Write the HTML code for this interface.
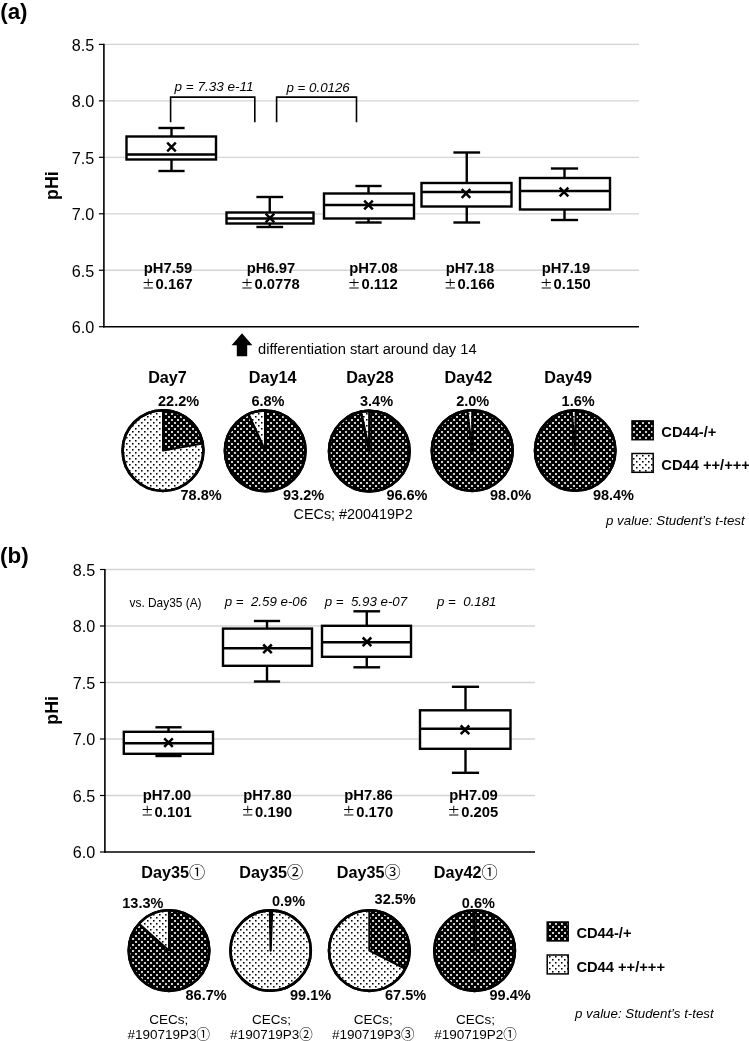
<!DOCTYPE html>
<html><head><meta charset="utf-8"><title>pHi figure</title>
<style>html,body{margin:0;padding:0;background:#fff;}svg{display:block;}text{white-space:pre;font-family:"Liberation Sans","Noto Sans CJK JP",sans-serif;fill:#000;}.b{font-weight:bold;}.i{font-style:italic;}</style></head><body>
<svg width="749" height="1041" viewBox="0 0 749 1041">
<defs>
<pattern id="dk" width="6" height="6" patternUnits="userSpaceOnUse" patternTransform="translate(3,5)"><rect width="6" height="6" fill="#000"/><rect x="0.1" y="0.1" width="1.8" height="1.8" fill="#fff"/><rect x="3.1" y="3.1" width="1.8" height="1.8" fill="#fff"/></pattern>
<pattern id="lt" width="6" height="6" patternUnits="userSpaceOnUse" patternTransform="translate(0,2)"><rect width="6" height="6" fill="#fff"/><rect x="3" y="0" width="1.55" height="1.55" fill="#000"/><rect x="0" y="3" width="1.55" height="1.55" fill="#000"/></pattern>
</defs>
<rect width="749" height="1041" fill="#fff"/>
<text x="0.2" y="18.9" font-size="22.4" text-anchor="start" class="b">(a)</text>
<line x1="103.9" y1="44.4" x2="639" y2="44.4" stroke="#d4d4d4" stroke-width="1.3"/>
<line x1="98.9" y1="44.4" x2="103.9" y2="44.4" stroke="#000" stroke-width="1.2"/>
<text x="94.2" y="50.9" font-size="16.2" text-anchor="end">8.5</text>
<line x1="103.9" y1="100.86" x2="639" y2="100.86" stroke="#d4d4d4" stroke-width="1.3"/>
<line x1="98.9" y1="100.86" x2="103.9" y2="100.86" stroke="#000" stroke-width="1.2"/>
<text x="94.2" y="107.36" font-size="16.2" text-anchor="end">8.0</text>
<line x1="103.9" y1="157.32" x2="639" y2="157.32" stroke="#d4d4d4" stroke-width="1.3"/>
<line x1="98.9" y1="157.32" x2="103.9" y2="157.32" stroke="#000" stroke-width="1.2"/>
<text x="94.2" y="163.82" font-size="16.2" text-anchor="end">7.5</text>
<line x1="103.9" y1="213.78" x2="639" y2="213.78" stroke="#d4d4d4" stroke-width="1.3"/>
<line x1="98.9" y1="213.78" x2="103.9" y2="213.78" stroke="#000" stroke-width="1.2"/>
<text x="94.2" y="220.28" font-size="16.2" text-anchor="end">7.0</text>
<line x1="103.9" y1="270.24" x2="639" y2="270.24" stroke="#d4d4d4" stroke-width="1.3"/>
<line x1="98.9" y1="270.24" x2="103.9" y2="270.24" stroke="#000" stroke-width="1.2"/>
<text x="94.2" y="276.74" font-size="16.2" text-anchor="end">6.5</text>
<line x1="98.9" y1="326.7" x2="103.9" y2="326.7" stroke="#000" stroke-width="1.2"/>
<text x="94.2" y="333.2" font-size="16.2" text-anchor="end">6.0</text>
<line x1="103.9" y1="43.8" x2="103.9" y2="327.4" stroke="#000" stroke-width="1.6"/>
<line x1="103.2" y1="326.7" x2="639" y2="326.7" stroke="#000" stroke-width="1.5"/>
<text transform="translate(57.6,185.6) rotate(-90)" font-size="17.8" text-anchor="middle" class="b">pHi</text>
<path d="M170.6 122.3V97.1H254.8V122.3M276.6 122.3V97.1H356.5V122.3" fill="none" stroke="#000" stroke-width="1.6"/>
<text x="174.5" y="90.6" font-size="13.5" text-anchor="start" class="i">p = 7.33 e-11</text>
<text x="286.5" y="92" font-size="13.3" text-anchor="start" class="i">p = 0.0126</text>
<g stroke="#000" stroke-width="2.4" fill="none">
<line x1="171.5" y1="128" x2="171.5" y2="136.5"/>
<line x1="171.5" y1="159.5" x2="171.5" y2="171"/>
<line x1="158.4" y1="128" x2="184.6" y2="128"/>
<line x1="158.4" y1="171" x2="184.6" y2="171"/>
<rect x="126.5" y="136.5" width="89.5" height="23" fill="#fff"/>
<line x1="126.5" y1="154.5" x2="216" y2="154.5"/>
<path d="M167.2 142.7L175.8 151.3M167.2 151.3L175.8 142.7" stroke-width="2.5"/>
</g>
<g stroke="#000" stroke-width="2.4" fill="none">
<line x1="269.75" y1="197" x2="269.75" y2="212.5"/>
<line x1="269.75" y1="223.5" x2="269.75" y2="227"/>
<line x1="256.4" y1="197" x2="283.1" y2="197"/>
<line x1="256.4" y1="227" x2="283.1" y2="227"/>
<rect x="226.5" y="212.5" width="87" height="11" fill="#fff"/>
<line x1="226.5" y1="218.5" x2="313.5" y2="218.5"/>
<path d="M265.7 213.7L274.3 222.3M265.7 222.3L274.3 213.7" stroke-width="2.5"/>
</g>
<g stroke="#000" stroke-width="2.4" fill="none">
<line x1="368.5" y1="186" x2="368.5" y2="193.5"/>
<line x1="368.5" y1="218.5" x2="368.5" y2="222.5"/>
<line x1="355.4" y1="186" x2="381.6" y2="186"/>
<line x1="355.4" y1="222.5" x2="381.6" y2="222.5"/>
<rect x="324" y="193.5" width="90" height="25" fill="#fff"/>
<line x1="324" y1="205" x2="414" y2="205"/>
<path d="M364.2 200.7L372.8 209.3M364.2 209.3L372.8 200.7" stroke-width="2.5"/>
</g>
<g stroke="#000" stroke-width="2.4" fill="none">
<line x1="466.75" y1="152.5" x2="466.75" y2="183"/>
<line x1="466.75" y1="206.5" x2="466.75" y2="222.5"/>
<line x1="453.4" y1="152.5" x2="480.1" y2="152.5"/>
<line x1="453.4" y1="222.5" x2="480.1" y2="222.5"/>
<rect x="421.5" y="183" width="90" height="23.5" fill="#fff"/>
<line x1="421.5" y1="192" x2="511.5" y2="192"/>
<path d="M461.7 189.2L470.3 197.8M461.7 197.8L470.3 189.2" stroke-width="2.5"/>
</g>
<g stroke="#000" stroke-width="2.4" fill="none">
<line x1="564.5" y1="168.5" x2="564.5" y2="178"/>
<line x1="564.5" y1="209.5" x2="564.5" y2="220"/>
<line x1="550.9" y1="168.5" x2="578.1" y2="168.5"/>
<line x1="550.9" y1="220" x2="578.1" y2="220"/>
<rect x="520" y="178" width="90" height="31.5" fill="#fff"/>
<line x1="520" y1="191" x2="610" y2="191"/>
<path d="M559.7 187.7L568.3 196.3M559.7 196.3L568.3 187.7" stroke-width="2.5"/>
</g>
<text x="168" y="272.6" font-size="14.8" text-anchor="middle" class="b">pH7.59</text>
<text x="167" y="288.9" font-size="14.8" text-anchor="middle" class="b"><tspan style="font-family:IPAGothic,'Noto Sans CJK JP',sans-serif;font-weight:normal" font-size="13.5" dy="-0.4">±</tspan><tspan dx="0.7" dy="0.4">0.167</tspan></text>
<text x="271" y="272.6" font-size="14.8" text-anchor="middle" class="b">pH6.97</text>
<text x="270" y="288.9" font-size="14.8" text-anchor="middle" class="b"><tspan style="font-family:IPAGothic,'Noto Sans CJK JP',sans-serif;font-weight:normal" font-size="13.5" dy="-0.4">±</tspan><tspan dx="0.7" dy="0.4">0.0778</tspan></text>
<text x="373.5" y="272.6" font-size="14.8" text-anchor="middle" class="b">pH7.08</text>
<text x="372.5" y="288.9" font-size="14.8" text-anchor="middle" class="b"><tspan style="font-family:IPAGothic,'Noto Sans CJK JP',sans-serif;font-weight:normal" font-size="13.5" dy="-0.4">±</tspan><tspan dx="0.7" dy="0.4">0.112</tspan></text>
<text x="470" y="272.6" font-size="14.8" text-anchor="middle" class="b">pH7.18</text>
<text x="469" y="288.9" font-size="14.8" text-anchor="middle" class="b"><tspan style="font-family:IPAGothic,'Noto Sans CJK JP',sans-serif;font-weight:normal" font-size="13.5" dy="-0.4">±</tspan><tspan dx="0.7" dy="0.4">0.166</tspan></text>
<text x="566" y="272.6" font-size="14.8" text-anchor="middle" class="b">pH7.19</text>
<text x="565" y="288.9" font-size="14.8" text-anchor="middle" class="b"><tspan style="font-family:IPAGothic,'Noto Sans CJK JP',sans-serif;font-weight:normal" font-size="13.5" dy="-0.4">±</tspan><tspan dx="0.7" dy="0.4">0.150</tspan></text>
<path d="M242 333.2L252.4 345.2H247.2V356.3H236.8V345.2H231.6Z" fill="#000"/>
<text x="258" y="354" font-size="14.7" text-anchor="start">differentiation start around day 14</text>
<text x="167.5" y="383" font-size="16.2" text-anchor="middle" class="b">Day7</text>
<text x="272.7" y="383" font-size="16.2" text-anchor="middle" class="b">Day14</text>
<text x="370" y="383" font-size="16.2" text-anchor="middle" class="b">Day28</text>
<text x="468.4" y="383" font-size="16.2" text-anchor="middle" class="b">Day42</text>
<text x="568.1" y="383" font-size="16.2" text-anchor="middle" class="b">Day49</text>
<circle cx="163" cy="450.6" r="40.4" fill="url(#lt)" stroke="#000" stroke-width="2.6"/>
<path d="M163 450.6L163 410.2A40.4 40.4 0 0 1 202.78 443.53Z" fill="url(#dk)" stroke="#000" stroke-width="2.0" stroke-linejoin="round"/>
<circle cx="163" cy="450.6" r="40.4" fill="none" stroke="#000" stroke-width="2.6"/>
<circle cx="265.2" cy="450.8" r="40.3" fill="url(#dk)" stroke="#000" stroke-width="2.6"/>
<path d="M265.2 450.8L248.49 414.13A40.3 40.3 0 0 1 265.19 410.5Z" fill="url(#lt)" stroke="#000" stroke-width="2.4" stroke-linejoin="round"/>
<circle cx="265.2" cy="450.8" r="40.3" fill="none" stroke="#000" stroke-width="2.6"/>
<circle cx="369.3" cy="451.2" r="40.3" fill="url(#dk)" stroke="#000" stroke-width="2.6"/>
<path d="M369.3 451.2L360.92 411.78A40.3 40.3 0 0 1 369.47 410.9Z" fill="url(#lt)" stroke="#000" stroke-width="2.6" stroke-linejoin="round"/>
<circle cx="369.3" cy="451.2" r="40.3" fill="none" stroke="#000" stroke-width="2.6"/>
<circle cx="472.2" cy="450.6" r="40.4" fill="url(#dk)" stroke="#000" stroke-width="2.6"/>
<path d="M472.2 450.6L467.28 410.5A40.4 40.4 0 0 1 472.34 410.2Z" fill="url(#lt)" stroke="#000" stroke-width="2.2" stroke-linejoin="round"/>
<circle cx="472.2" cy="450.6" r="40.4" fill="none" stroke="#000" stroke-width="2.6"/>
<circle cx="575.2" cy="450.6" r="40.2" fill="url(#dk)" stroke="#000" stroke-width="2.6"/>
<path d="M575.2 450.6L571.7 410.55A40.2 40.2 0 0 1 575.73 410.4Z" fill="url(#lt)" stroke="#000" stroke-width="2.1" stroke-linejoin="round"/>
<circle cx="575.2" cy="450.6" r="40.2" fill="none" stroke="#000" stroke-width="2.6"/>
<text x="158" y="405.8" font-size="14.5" text-anchor="start" class="b">22.2%</text>
<text x="180.5" y="499.9" font-size="14.5" text-anchor="start" class="b">78.8%</text>
<text x="251.4" y="405.8" font-size="14.5" text-anchor="start" class="b">6.8%</text>
<text x="283" y="499.9" font-size="14.5" text-anchor="start" class="b">93.2%</text>
<text x="360" y="405.8" font-size="14.5" text-anchor="start" class="b">3.4%</text>
<text x="386.4" y="499.9" font-size="14.5" text-anchor="start" class="b">96.6%</text>
<text x="456.2" y="405.8" font-size="14.5" text-anchor="start" class="b">2.0%</text>
<text x="490" y="499.9" font-size="14.5" text-anchor="start" class="b">98.0%</text>
<text x="561.6" y="405.8" font-size="14.5" text-anchor="start" class="b">1.6%</text>
<text x="592.9" y="500.3" font-size="14.5" text-anchor="start" class="b">98.4%</text>
<text x="293.5" y="519" font-size="14.4" text-anchor="start">CECs; #200419P2</text>
<rect x="632" y="420.9" width="21.2" height="18.8" fill="url(#dk)" stroke="#000" stroke-width="1.5"/>
<rect x="632" y="453.5" width="21.2" height="18.8" fill="url(#lt)" stroke="#000" stroke-width="1.5"/>
<text x="661.3" y="437" font-size="14.7" text-anchor="start" class="b">CD44-/+</text>
<text x="661.3" y="469.7" font-size="14.7" text-anchor="start" class="b">CD44 ++/+++</text>
<text x="606" y="524.7" font-size="13.3" text-anchor="start" class="i">p value: Student’s t-test</text>
<text x="0" y="562.7" font-size="22.4" text-anchor="start" class="b">(b)</text>
<line x1="104.9" y1="569.5" x2="535" y2="569.5" stroke="#d4d4d4" stroke-width="1.3"/>
<line x1="99.9" y1="569.5" x2="104.9" y2="569.5" stroke="#000" stroke-width="1.2"/>
<text x="95.2" y="575.5" font-size="16.2" text-anchor="end">8.5</text>
<line x1="104.9" y1="626" x2="535" y2="626" stroke="#d4d4d4" stroke-width="1.3"/>
<line x1="99.9" y1="626" x2="104.9" y2="626" stroke="#000" stroke-width="1.2"/>
<text x="95.2" y="632" font-size="16.2" text-anchor="end">8.0</text>
<line x1="104.9" y1="682.5" x2="535" y2="682.5" stroke="#d4d4d4" stroke-width="1.3"/>
<line x1="99.9" y1="682.5" x2="104.9" y2="682.5" stroke="#000" stroke-width="1.2"/>
<text x="95.2" y="688.5" font-size="16.2" text-anchor="end">7.5</text>
<line x1="104.9" y1="739" x2="535" y2="739" stroke="#d4d4d4" stroke-width="1.3"/>
<line x1="99.9" y1="739" x2="104.9" y2="739" stroke="#000" stroke-width="1.2"/>
<text x="95.2" y="745" font-size="16.2" text-anchor="end">7.0</text>
<line x1="104.9" y1="795.5" x2="535" y2="795.5" stroke="#d4d4d4" stroke-width="1.3"/>
<line x1="99.9" y1="795.5" x2="104.9" y2="795.5" stroke="#000" stroke-width="1.2"/>
<text x="95.2" y="801.5" font-size="16.2" text-anchor="end">6.5</text>
<line x1="99.9" y1="852" x2="104.9" y2="852" stroke="#000" stroke-width="1.2"/>
<text x="95.2" y="858" font-size="16.2" text-anchor="end">6.0</text>
<line x1="104.9" y1="568.9" x2="104.9" y2="852.7" stroke="#000" stroke-width="1.6"/>
<line x1="104.2" y1="852" x2="535" y2="852" stroke="#000" stroke-width="1.5"/>
<text transform="translate(57.6,710.4) rotate(-90)" font-size="17.8" text-anchor="middle" class="b">pHi</text>
<text x="129.5" y="606.9" font-size="11.9" text-anchor="start">vs. Day35 (A)</text>
<text x="224.7" y="606.4" font-size="13.3" text-anchor="start" class="i">p =  2.59 e-06</text>
<text x="324.7" y="606.4" font-size="13.3" text-anchor="start" class="i">p =  5.93 e-07</text>
<text x="437" y="606.4" font-size="13.3" text-anchor="start" class="i">p =  0.181</text>
<g stroke="#000" stroke-width="2.4" fill="none">
<line x1="168.5" y1="727.3" x2="168.5" y2="731.8"/>
<line x1="168.5" y1="753.8" x2="168.5" y2="756"/>
<line x1="155.4" y1="727.3" x2="181.6" y2="727.3"/>
<line x1="155.4" y1="756" x2="181.6" y2="756"/>
<rect x="123.8" y="731.8" width="89.2" height="22" fill="#fff"/>
<line x1="123.8" y1="743.3" x2="213" y2="743.3"/>
<path d="M164.2 738.3L172.8 746.9M164.2 746.9L172.8 738.3" stroke-width="2.5"/>
</g>
<g stroke="#000" stroke-width="2.4" fill="none">
<line x1="267" y1="621" x2="267" y2="628.6"/>
<line x1="267" y1="665.8" x2="267" y2="681.5"/>
<line x1="253.9" y1="621" x2="280.1" y2="621"/>
<line x1="253.9" y1="681.5" x2="280.1" y2="681.5"/>
<rect x="223" y="628.6" width="89" height="37.2" fill="#fff"/>
<line x1="223" y1="648.3" x2="312" y2="648.3"/>
<path d="M263.2 644.5L271.8 653.1M263.2 653.1L271.8 644.5" stroke-width="2.5"/>
</g>
<g stroke="#000" stroke-width="2.4" fill="none">
<line x1="366.75" y1="611.3" x2="366.75" y2="625.8"/>
<line x1="366.75" y1="656.8" x2="366.75" y2="667.3"/>
<line x1="353.4" y1="611.3" x2="380.1" y2="611.3"/>
<line x1="353.4" y1="667.3" x2="380.1" y2="667.3"/>
<rect x="322" y="625.8" width="89" height="31" fill="#fff"/>
<line x1="322" y1="642.3" x2="411" y2="642.3"/>
<path d="M362.7 637.5L371.3 646.1M362.7 646.1L371.3 637.5" stroke-width="2.5"/>
</g>
<g stroke="#000" stroke-width="2.4" fill="none">
<line x1="465.5" y1="686.8" x2="465.5" y2="710.3"/>
<line x1="465.5" y1="748.8" x2="465.5" y2="772.8"/>
<line x1="451.9" y1="686.8" x2="479.1" y2="686.8"/>
<line x1="451.9" y1="772.8" x2="479.1" y2="772.8"/>
<rect x="420" y="710.3" width="90.5" height="38.5" fill="#fff"/>
<line x1="420" y1="728.8" x2="510.5" y2="728.8"/>
<path d="M460.7 725.5L469.3 734.1M460.7 734.1L469.3 725.5" stroke-width="2.5"/>
</g>
<text x="167" y="800.4" font-size="14.8" text-anchor="middle" class="b">pH7.00</text>
<text x="166" y="816.6" font-size="14.8" text-anchor="middle" class="b"><tspan style="font-family:IPAGothic,'Noto Sans CJK JP',sans-serif;font-weight:normal" font-size="13.5" dy="-0.4">±</tspan><tspan dx="0.7" dy="0.4">0.101</tspan></text>
<text x="267.5" y="800.4" font-size="14.8" text-anchor="middle" class="b">pH7.80</text>
<text x="266.5" y="816.6" font-size="14.8" text-anchor="middle" class="b"><tspan style="font-family:IPAGothic,'Noto Sans CJK JP',sans-serif;font-weight:normal" font-size="13.5" dy="-0.4">±</tspan><tspan dx="0.7" dy="0.4">0.190</tspan></text>
<text x="368.6" y="800.4" font-size="14.8" text-anchor="middle" class="b">pH7.86</text>
<text x="367.6" y="816.6" font-size="14.8" text-anchor="middle" class="b"><tspan style="font-family:IPAGothic,'Noto Sans CJK JP',sans-serif;font-weight:normal" font-size="13.5" dy="-0.4">±</tspan><tspan dx="0.7" dy="0.4">0.170</tspan></text>
<text x="473.6" y="800.4" font-size="14.8" text-anchor="middle" class="b">pH7.09</text>
<text x="472.6" y="816.6" font-size="14.8" text-anchor="middle" class="b"><tspan style="font-family:IPAGothic,'Noto Sans CJK JP',sans-serif;font-weight:normal" font-size="13.5" dy="-0.4">±</tspan><tspan dx="0.7" dy="0.4">0.205</tspan></text>
<text x="173.2" y="878" font-size="16.2" text-anchor="middle" class="b">Day35<tspan style="font-weight:normal">①</tspan></text>
<text x="271.3" y="878" font-size="16.2" text-anchor="middle" class="b">Day35<tspan style="font-weight:normal">②</tspan></text>
<text x="368.7" y="878" font-size="16.2" text-anchor="middle" class="b">Day35<tspan style="font-weight:normal">③</tspan></text>
<text x="465.8" y="878" font-size="16.2" text-anchor="middle" class="b">Day42<tspan style="font-weight:normal">①</tspan></text>
<circle cx="169" cy="950.6" r="40.3" fill="url(#dk)" stroke="#000" stroke-width="2.6"/>
<path d="M169 950.6L139.05 923.63A40.3 40.3 0 0 1 168.92 910.3Z" fill="url(#lt)" stroke="#000" stroke-width="2.0" stroke-linejoin="round"/>
<circle cx="169" cy="950.6" r="40.3" fill="none" stroke="#000" stroke-width="2.6"/>
<circle cx="270.6" cy="950.6" r="40.2" fill="url(#lt)" stroke="#000" stroke-width="2.6"/>
<path d="M270.6 950.6L269.9 910.41A40.2 40.2 0 0 1 272.17 910.43Z" fill="url(#dk)" stroke="#000" stroke-width="2.2" stroke-linejoin="round"/>
<circle cx="270.6" cy="950.6" r="40.2" fill="none" stroke="#000" stroke-width="2.6"/>
<circle cx="369.3" cy="950.6" r="40.3" fill="url(#lt)" stroke="#000" stroke-width="2.6"/>
<path d="M369.3 950.6L369.3 910.3A40.3 40.3 0 0 1 405.21 968.9Z" fill="url(#dk)" stroke="#000" stroke-width="2.0" stroke-linejoin="round"/>
<circle cx="369.3" cy="950.6" r="40.3" fill="none" stroke="#000" stroke-width="2.6"/>
<circle cx="474.6" cy="950.6" r="40.3" fill="url(#dk)" stroke="#000" stroke-width="2.6"/>
<path d="M474.6 950.6L473.19 910.32A40.3 40.3 0 0 1 474.71 910.3Z" fill="url(#lt)" stroke="#000" stroke-width="2.0" stroke-linejoin="round"/>
<circle cx="474.6" cy="950.6" r="40.3" fill="none" stroke="#000" stroke-width="2.6"/>
<text x="122.3" y="908.2" font-size="14.5" text-anchor="start" class="b">13.3%</text>
<text x="185.5" y="1000" font-size="14.5" text-anchor="start" class="b">86.7%</text>
<text x="272" y="905.7" font-size="14.5" text-anchor="start" class="b">0.9%</text>
<text x="290" y="999.8" font-size="14.5" text-anchor="start" class="b">99.1%</text>
<text x="374.6" y="904" font-size="14.5" text-anchor="start" class="b">32.5%</text>
<text x="385" y="999.6" font-size="14.5" text-anchor="start" class="b">67.5%</text>
<text x="461.8" y="907.7" font-size="14.5" text-anchor="start" class="b">0.6%</text>
<text x="489.5" y="1000" font-size="14.5" text-anchor="start" class="b">99.4%</text>
<text x="168.8" y="1024" font-size="13.5" text-anchor="middle">CECs;</text>
<text x="168.8" y="1039.2" font-size="13.5" text-anchor="middle">#190719P3①</text>
<text x="271.4" y="1024" font-size="13.5" text-anchor="middle">CECs;</text>
<text x="271.4" y="1039.2" font-size="13.5" text-anchor="middle">#190719P3②</text>
<text x="373.3" y="1024" font-size="13.5" text-anchor="middle">CECs;</text>
<text x="373.3" y="1039.2" font-size="13.5" text-anchor="middle">#190719P3③</text>
<text x="475.6" y="1024" font-size="13.5" text-anchor="middle">CECs;</text>
<text x="475.6" y="1039.2" font-size="13.5" text-anchor="middle">#190719P2①</text>
<rect x="547.2" y="922" width="21" height="18.9" fill="url(#dk)" stroke="#000" stroke-width="1.5"/>
<rect x="547.2" y="955" width="21" height="18.9" fill="url(#lt)" stroke="#000" stroke-width="1.5"/>
<text x="576.4" y="937.8" font-size="14.7" text-anchor="start" class="b">CD44-/+</text>
<text x="576.4" y="971.6" font-size="14.7" text-anchor="start" class="b">CD44 ++/+++</text>
<text x="575" y="1017.6" font-size="13.3" text-anchor="start" class="i">p value: Student’s t-test</text>
</svg></body></html>
